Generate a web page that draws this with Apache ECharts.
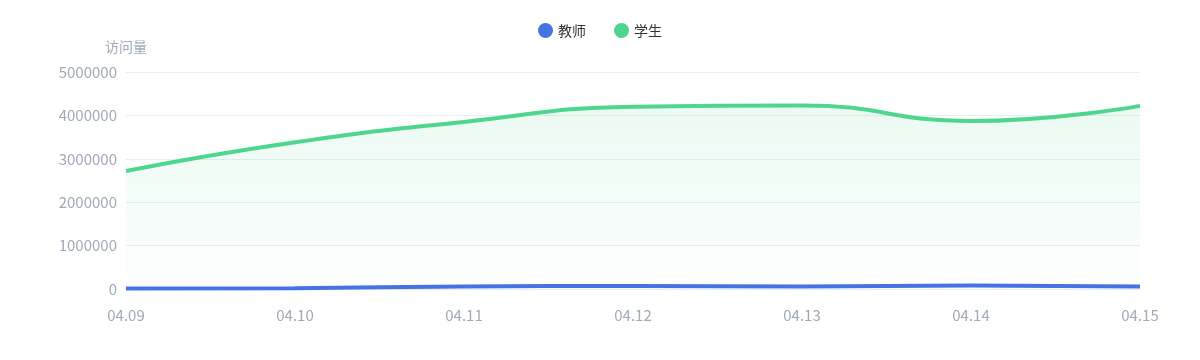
<!DOCTYPE html>
<html><head><meta charset="utf-8">
<script src="https://cdn.jsdelivr.net/npm/echarts@6/dist/echarts.min.js"></script>
<style>html,body{margin:0;padding:0;background:#fff}#c{width:1200px;height:360px}</style>
</head><body><div id="c"></div>
<script>
var categories = ['04.09','04.10','04.11','04.12','04.13','04.14','04.15'];
var teacher = [10000, 20000, 60000, 70000, 60000, 80000, 60000];
var student = [2720000, 3380000, 3850000, 4200000, 4230000, 3870000, 4220000];
var seriesNames = ['教师','学生'];
var chart = echarts.init(document.getElementById('c'));
chart.setOption({
  animation:false,
  legend:{top:18,left:'center',icon:'circle',itemWidth:15,itemHeight:15,itemGap:28,
    textStyle:{color:'#333',fontSize:14,fontFamily:'Noto Sans CJK SC'},data:seriesNames},
  grid:{left:126,right:60,top:72,bottom:71},
  xAxis:{type:'category',boundaryGap:false,data:categories,
    axisLine:{lineStyle:{color:'#e6eef5'}},axisTick:{show:false},
    axisLabel:{color:'#a0a9b5',fontSize:15,margin:19,fontFamily:'Noto Sans CJK SC'}},
  yAxis:{type:'value',name:'访问量',min:0,max:5000000,interval:1000000,
    nameTextStyle:{color:'#a0a9b5',fontSize:14,padding:[0,0,2,0],fontFamily:'Noto Sans CJK SC'},
    nameGap:16,
    axisLine:{show:false},axisTick:{show:false},
    axisLabel:{color:'#a0a9b5',fontSize:15,margin:9,fontFamily:'Noto Sans CJK SC',
      formatter:function(v){return String(v);}},
    splitLine:{lineStyle:{color:'#e6eef5'}}},
  series:[
    {name:seriesNames[0],type:'line',smooth:true,showSymbol:false,data:teacher,
     itemStyle:{color:'#4573e3'},lineStyle:{width:4,color:'#4573e3'}},
    {name:seriesNames[1],type:'line',smooth:true,showSymbol:false,data:student,
     itemStyle:{color:'#4fd68e'},lineStyle:{width:4,color:'#4fd68e'},
     areaStyle:{color:new echarts.graphic.LinearGradient(0,0,0,1,[
       {offset:0,color:'rgba(79,214,142,0.16)'},{offset:1,color:'rgba(79,214,142,0.01)'}])}}
  ]
});
</script></body></html>
